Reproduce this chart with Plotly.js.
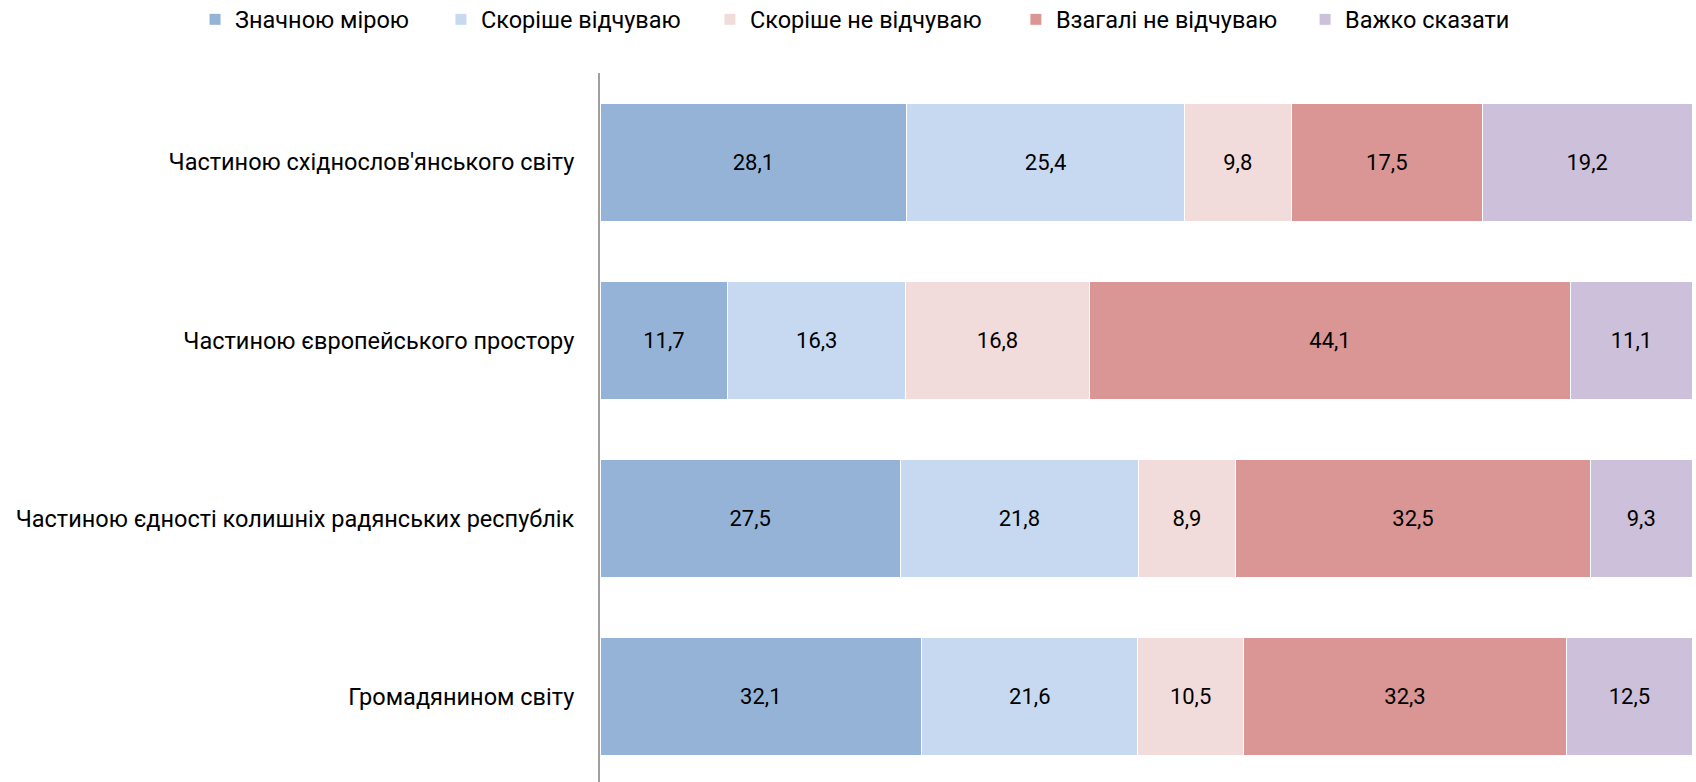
<!DOCTYPE html>
<html>
<head>
<meta charset="utf-8">
<script src="https://cdn.plot.ly/plotly-3.0.1.min.js"></script>
<style>
  html, body { margin: 0; padding: 0; background: #ffffff; }
  #chart { width: 1696px; height: 782px; }
</style>
</head>
<body>
<div id="chart"></div>
<script>
// Categories (top to bottom)
const categories = [
  "Частиною східнослов'янського світу",
  "Частиною європейського простору",
  "Частиною єдності колишніх радянських республік",
  "Громадянином світу"
];

// Series names
const seriesNames = [
  "Значною мірою",
  "Скоріше відчуваю",
  "Скоріше не відчуваю",
  "Взагалі не відчуваю",
  "Важко сказати"
];

// Series values (per category, same order as categories)
const znachnoyu      = [28.1, 11.7, 27.5, 32.1];
const skorisheVidch  = [25.4, 16.3, 21.8, 21.6];
const skorisheNe     = [9.8, 16.8, 8.9, 10.5];
const vzagaliNe      = [17.5, 44.1, 32.5, 32.3];
const vazhko         = [19.2, 11.1, 9.3, 12.5];

const seriesValues = [znachnoyu, skorisheVidch, skorisheNe, vzagaliNe, vazhko];
const seriesColors = ["#95B3D7", "#C6D9F1", "#F2DCDB", "#D99694", "#CCC0DA"];

const FONT = "Roboto, 'Liberation Sans', sans-serif";
const legendKeys = ["legend", "legend2", "legend3", "legend4", "legend5"];
const legendX = [0.115, 0.260, 0.4186, 0.599, 0.7695];

const traces = seriesValues.map((vals, i) => ({
  type: "bar",
  orientation: "h",
  name: seriesNames[i],
  legend: legendKeys[i],
  y: categories,
  x: vals,
  text: vals.map(v => v.toFixed(1).replace(".", ",")),
  textposition: "inside",
  insidetextanchor: "middle",
  textangle: 0,
  constraintext: "none",
  insidetextfont: { family: FONT, size: 22, color: "#000000" },
  marker: { color: seriesColors[i], line: { color: "#ffffff", width: 1 } },
  hoverinfo: "skip"
}));

const layout = {
  width: 1696,
  height: 782,
  paper_bgcolor: "#ffffff",
  plot_bgcolor: "#ffffff",
  font: { family: FONT, size: 23, color: "#000000" },
  barmode: "stack",
  barnorm: "percent",
  bargap: 0.338,
  margin: { l: 600, r: 4, t: 73, b: 0, pad: 0 },
  showlegend: true,
  xaxis: {
    visible: false,
    range: [0, 100],
    fixedrange: true
  },
  yaxis: {
    type: "category",
    categoryorder: "array",
    categoryarray: categories,
    range: [3.479, -0.5],
    showline: true,
    linecolor: "#A0A0A0",
    linewidth: 2,
    showgrid: false,
    zeroline: false,
    ticks: "",
    ticklabelstandoff: 19,
    tickfont: { family: FONT, size: 23.5, color: "#000000" },
    fixedrange: true
  }
};

legendKeys.forEach((key, i) => {
  layout[key] = {
    orientation: "h",
    xref: "container",
    yref: "container",
    x: legendX[i],
    xanchor: "left",
    y: 0.975,
    yanchor: "middle",
    font: { family: FONT, size: 23.5, color: "#000000" },
    itemwidth: 30,
    bgcolor: "rgba(0,0,0,0)"
  };
});

Plotly.newPlot("chart", traces, layout, { displayModeBar: false, staticPlot: true });
</script>
</body>
</html>
